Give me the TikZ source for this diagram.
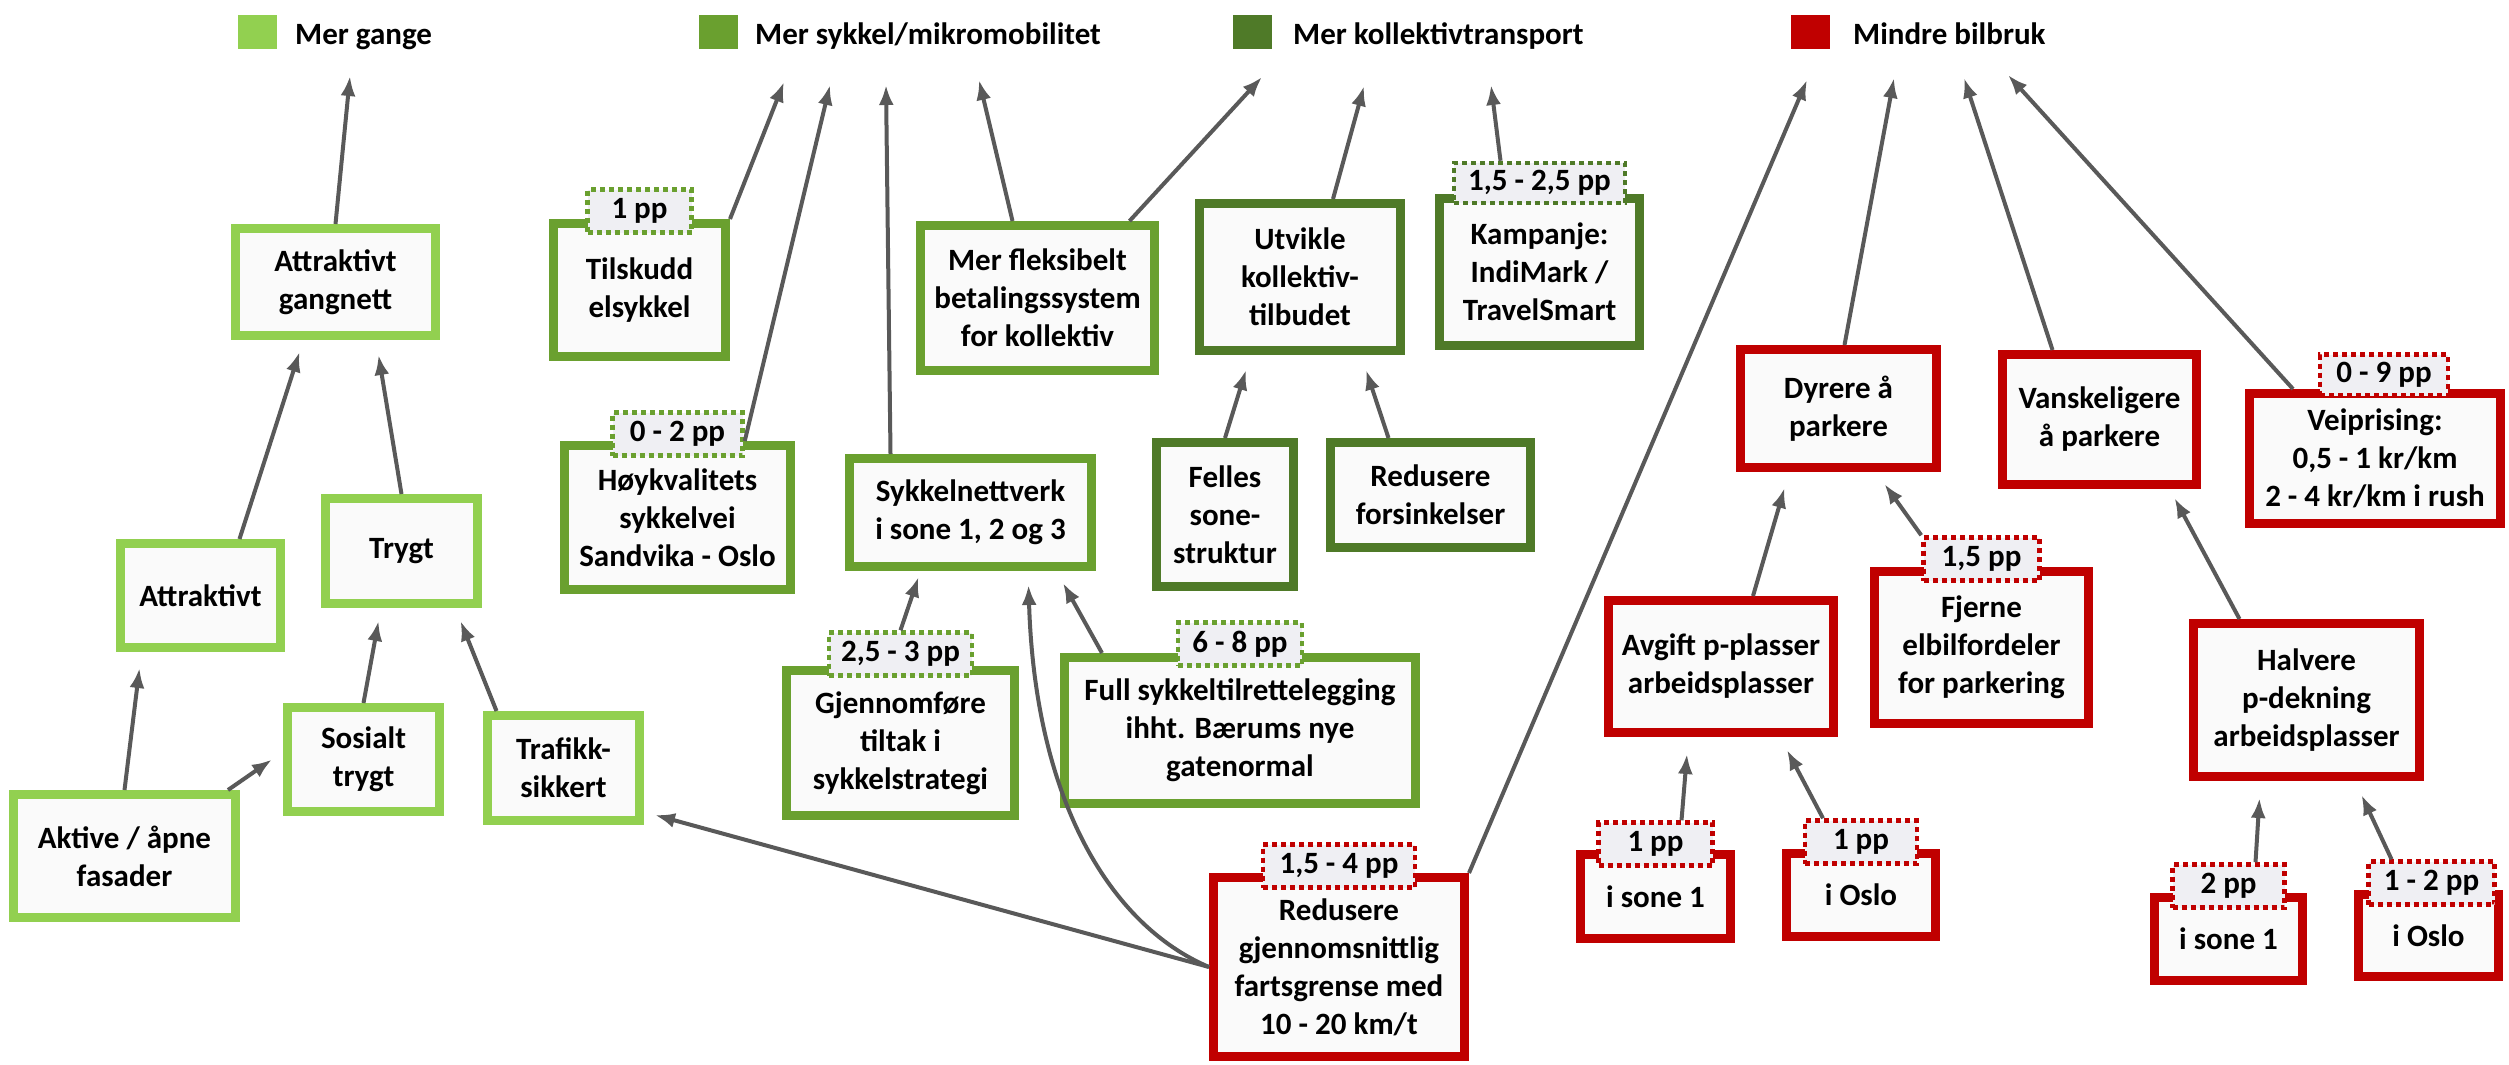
\documentclass[tikz,border=0pt]{standalone}
\usepackage{fontspec}
\setmainfont{Carlito}
\usetikzlibrary{arrows.meta}

\definecolor{gangefarge}{HTML}{92D050}
\definecolor{sykkelfarge}{HTML}{6AA02F}
\definecolor{kollfarge}{HTML}{4F7A28}
\definecolor{bilfarge}{HTML}{C00000}
\definecolor{pilfarge}{HTML}{595959}
\definecolor{boksfyll}{HTML}{FAFAFA}
\definecolor{ppfyll}{HTML}{EFEFF3}
\newcommand{\tiltakfont}{\fontsize{31}{38}\selectfont\bfseries}

\tikzset{
  tiltak/.style={draw, line width=9pt, fill=boksfyll, align=center, inner sep=0pt, font=\tiltakfont},
  gange/.style={tiltak, draw=gangefarge},
  sykkel/.style={tiltak, draw=sykkelfarge},
  koll/.style={tiltak, draw=kollfarge},
  bil/.style={tiltak, draw=bilfarge},
  pp/.style={draw, line width=4.5pt, dash pattern=on 5pt off 4pt, fill=ppfyll,
    inner sep=0pt, minimum height=43pt, font=\tiltakfont},
  effekt/.style={draw=pilfarge, line width=4pt, -{Latex[length=20pt,width=15pt]}},
  rute/.style={inner sep=0pt, minimum width=39pt, minimum height=34pt},
  maaltekst/.style={anchor=base west, inner sep=0pt, font=\tiltakfont}
}

\begin{document}
\begin{tikzpicture}[x=1pt, y=-1pt]
  \useasboundingbox (0,0) rectangle (2509,1065);

  % maal
  \node[rute, fill=gangefarge] (rgange) at (257.5,32) {};
  \node[maaltekst] (tgange) at (295,45) {Mer gange};
  \node[rute, fill=sykkelfarge] (rsykkel) at (718,32) {};
  \node[maaltekst] (tsykkel) at (755,45) {Mer sykkel/mikromobilitet};
  \node[rute, fill=kollfarge] (rkoll) at (1252,32) {};
  \node[maaltekst] (tkoll) at (1293,45) {Mer kollektivtransport};
  \node[rute, fill=bilfarge] (rbil) at (1810.5,32) {};
  \node[maaltekst] (tbil) at (1853,45) {Mindre bilbruk};

  \coordinate (gange1) at (350,76);
  \coordinate (sykkel1) at (784,82);
  \coordinate (sykkel2) at (830,85);
  \coordinate (sykkel3) at (886,85);
  \coordinate (sykkel4) at (979,80);
  \coordinate (koll1) at (1262,77);
  \coordinate (koll2) at (1364,86);
  \coordinate (koll3) at (1491,85);
  \coordinate (bil1) at (1807,80);
  \coordinate (bil2) at (1894,78);
  \coordinate (bil3) at (1964,78);
  \coordinate (bil4) at (2008,75);

  % gange
  \node[gange, minimum width=200pt, minimum height=107pt] (gangnett) at (335.5,282) {Attraktivt\\gangnett};
  \node[gange, minimum width=160pt, minimum height=104pt] (attraktivt) at (200.5,595.5) {Attraktivt};
  \node[gange, minimum width=152pt, minimum height=105pt] (trygt) at (401.5,551) {Trygt};
  \node[gange, minimum width=152pt, minimum height=104pt] (sosialt) at (363.5,759.5) {Sosialt\\trygt};
  \node[gange, minimum width=152pt, minimum height=105pt] (trafikk) at (563.5,768) {Trafikk-\\sikkert};
  \node[gange, minimum width=222pt, minimum height=123pt] (aktive) at (124.5,856) {Aktive / åpne\\fasader};

  % sykkel
  \node[sykkel, minimum width=172pt, minimum height=133pt] (tilskudd) at (639.5,290) {Tilskudd\\elsykkel};
  \node[sykkel, minimum width=226pt, minimum height=144pt] (hoykval) at (677.5,517.5) {Høykvalitets\\sykkelvei\\Sandvika - Oslo};
  \node[sykkel, minimum width=234pt, minimum height=145pt] (fleks) at (1037.5,298) {Mer fleksibelt\\betalingssystem\\for kollektiv};
  \node[sykkel, minimum width=242pt, minimum height=108pt] (sykkelnett) at (970.5,512.5) {Sykkelnettverk\\i sone 1, 2 og 3};
  \node[sykkel, minimum width=228pt, minimum height=145pt] (gjennom) at (900.5,743) {Gjennomføre\\tiltak i\\sykkelstrategi};
  \node[sykkel, minimum width=351pt, minimum height=146pt] (full) at (1240,730.5) {Full sykkeltilrettelegging\\ihht. Bærums nye\\gatenormal};

  % kollektiv
  \node[koll, minimum width=201pt, minimum height=147pt] (utvikle) at (1300,277) {Utvikle\\kollektiv-\\tilbudet};
  \node[koll, minimum width=200pt, minimum height=147pt] (kampanje) at (1539.5,272) {Kampanje:\\IndiMark /\\TravelSmart};
  \node[koll, minimum width=137pt, minimum height=144pt] (felles) at (1225,514.5) {Felles\\sone-\\struktur};
  \node[koll, minimum width=200pt, minimum height=105pt] (forsink) at (1430.5,495) {Redusere\\forsinkelser};

  % bil
  \node[bil, minimum width=251pt, minimum height=179pt] (fart) at (1339,967) {Redusere\\gjennomsnittlig\\fartsgrense med\\10 - 20 km/t};
  \node[bil, minimum width=196pt, minimum height=118pt] (dyrere) at (1838.5,408.5) {Dyrere å\\parkere};
  \node[bil, minimum width=194pt, minimum height=130pt] (vansk) at (2099.5,419.5) {Vanskeligere\\å parkere};
  \node[bil, minimum width=251pt, minimum height=130pt] (veip) at (2375,458.5) {Veiprising:\\0,5 - 1 kr/km\\2 - 4 kr/km i rush};
  \node[bil, minimum width=225pt, minimum height=132pt] (avgift) at (1721,666.5) {Avgift p-plasser\\arbeidsplasser};
  \node[bil, minimum width=214pt, minimum height=152pt] (fjerne) at (1981.5,647.5) {Fjerne\\elbilfordeler\\for parkering};
  \node[bil, minimum width=226pt, minimum height=153pt] (halvere) at (2306.5,700) {Halvere\\p-dekning\\arbeidsplasser};
  \node[bil, minimum width=150pt, minimum height=84pt] (avgsone) at (1655.5,896.5) {i sone 1};
  \node[bil, minimum width=149pt, minimum height=83pt] (avgoslo) at (1861,895) {i Oslo};
  \node[bil, minimum width=148pt, minimum height=83pt] (halvsone) at (2228.5,939) {i sone 1};
  \node[bil, minimum width=140pt, minimum height=82pt] (halvoslo) at (2428.5,935.5) {i Oslo};

  % prosentpoeng
  \node[pp, draw=sykkelfarge, minimum width=104pt] (tilskuddpp) at ([yshift=8pt]tilskudd.north) {1 pp};
  \node[pp, draw=sykkelfarge, minimum width=130pt] (hoykvalpp) at ([yshift=7pt]hoykval.north) {0 - 2 pp};
  \node[pp, draw=sykkelfarge, minimum width=143pt] (gjennompp) at ([yshift=12pt]gjennom.north) {2,5 - 3 pp};
  \node[pp, draw=sykkelfarge, minimum width=124pt] (fullpp) at ([yshift=9pt]full.north) {6 - 8 pp};
  \node[pp, draw=kollfarge, minimum width=171pt, minimum height=40pt] (kampanjepp) at ([yshift=11pt]kampanje.north) {1,5 - 2,5 pp};
  \node[pp, draw=bilfarge, minimum width=152pt] (fartpp) at ([yshift=7pt]fart.north) {1,5 - 4 pp};
  \node[pp, draw=bilfarge, minimum width=128pt, minimum height=41pt] (veippp) at ([xshift=9pt,yshift=14pt]veip.north) {0 - 9 pp};
  \node[pp, draw=bilfarge, minimum width=116pt] (fjernepp) at ([yshift=8pt]fjerne.north) {1,5 pp};
  \node[pp, draw=bilfarge, minimum width=114pt] (avgsonepp) at ([yshift=6pt]avgsone.north) {1 pp};
  \node[pp, draw=bilfarge, minimum width=112pt] (avgoslopp) at ([yshift=7pt]avgoslo.north) {1 pp};
  \node[pp, draw=bilfarge, minimum width=112pt] (halvsonepp) at ([yshift=7pt]halvsone.north) {2 pp};
  \node[pp, draw=bilfarge, minimum width=126pt] (halvoslopp) at ([xshift=3pt,yshift=7pt]halvoslo.north) {1 - 2 pp};

  % piler til maal
  \draw[effekt] (gangnett.north) -- (gange1);
  \draw[effekt] (tilskudd.north east) -- (sykkel1);
  \draw[effekt] (hoykvalpp.east |- hoykval.north) -- (sykkel2);
  \draw[effekt] ([xshift=-80pt]sykkelnett.north) -- (sykkel3);
  \draw[effekt] ([xshift=-25pt]fleks.north) -- (sykkel4);
  \draw[effekt] ([xshift=92pt]fleks.north) -- (koll1);
  \draw[effekt] ([xshift=33pt]utvikle.north) -- (koll2);
  \draw[effekt] ([xshift=-39pt]kampanjepp.north) -- (koll3);
  \draw[effekt] (fart.north east) -- (bil1);
  \draw[effekt] ([xshift=6pt]dyrere.north) -- (bil2);
  \draw[effekt] ([xshift=-47pt]vansk.north) -- (bil3);
  \draw[effekt] ([xshift=-82pt]veip.north) -- (bil4);

  % piler mellom tiltak
  \draw[effekt] ([xshift=39pt]attraktivt.north) -- ([xshift=-36pt,yshift=-12pt]gangnett.south);
  \draw[effekt] (trygt.north) -- ([xshift=43pt,yshift=-15pt]gangnett.south);
  \draw[effekt] (aktive.north) -- ([xshift=-61pt,yshift=-16pt]attraktivt.south);
  \draw[effekt] ([xshift=-12pt]aktive.north east) -- ([xshift=-11pt]sosialt.west);
  \draw[effekt] (sosialt.north) -- ([xshift=-23pt,yshift=-13pt]trygt.south);
  \draw[effekt] ([xshift=-67pt]trafikk.north) -- ([xshift=59pt,yshift=-13pt]trygt.south);
  \draw[effekt] (fart.west) -- ([xshift=11pt,yshift=10pt]trafikk.south east);
  \draw[effekt] (fart.west) .. controls (1110,925) and (1035,800) .. ([xshift=58pt,yshift=-14pt]sykkelnett.south);
  \draw[effekt] (gjennompp.north) -- ([xshift=-52pt,yshift=-6pt]sykkelnett.south);
  \draw[effekt] ([xshift=42pt]full.north west) -- ([xshift=-33pt,yshift=-12pt]sykkelnett.south east);
  \draw[effekt] (felles.north) -- ([xshift=-54pt,yshift=-15pt]utvikle.south);
  \draw[effekt] ([xshift=-42pt]forsink.north) -- ([xshift=66pt,yshift=-15pt]utvikle.south);
  \draw[effekt] ([xshift=32pt]avgift.north) -- ([xshift=-54pt,yshift=-16pt]dyrere.south);
  \draw[effekt] (fjernepp.north west) -- ([xshift=46pt,yshift=-12pt]dyrere.south);
  \draw[effekt] ([xshift=-67pt]halvere.north) -- ([xshift=75pt,yshift=-9pt]vansk.south);
  \draw[effekt] ([xshift=26pt]avgsonepp.north) -- ([xshift=-34pt,yshift=-17pt]avgift.south);
  \draw[effekt] ([xshift=-38pt]avgoslopp.north) -- ([xshift=66pt,yshift=-13pt]avgift.south);
  \draw[effekt] ([xshift=27pt]halvsonepp.north) -- ([xshift=-47pt,yshift=-17pt]halvere.south);
  \draw[effekt] ([xshift=-40pt]halvoslopp.north) -- ([xshift=55pt,yshift=-14pt]halvere.south);
\end{tikzpicture}
\end{document}
